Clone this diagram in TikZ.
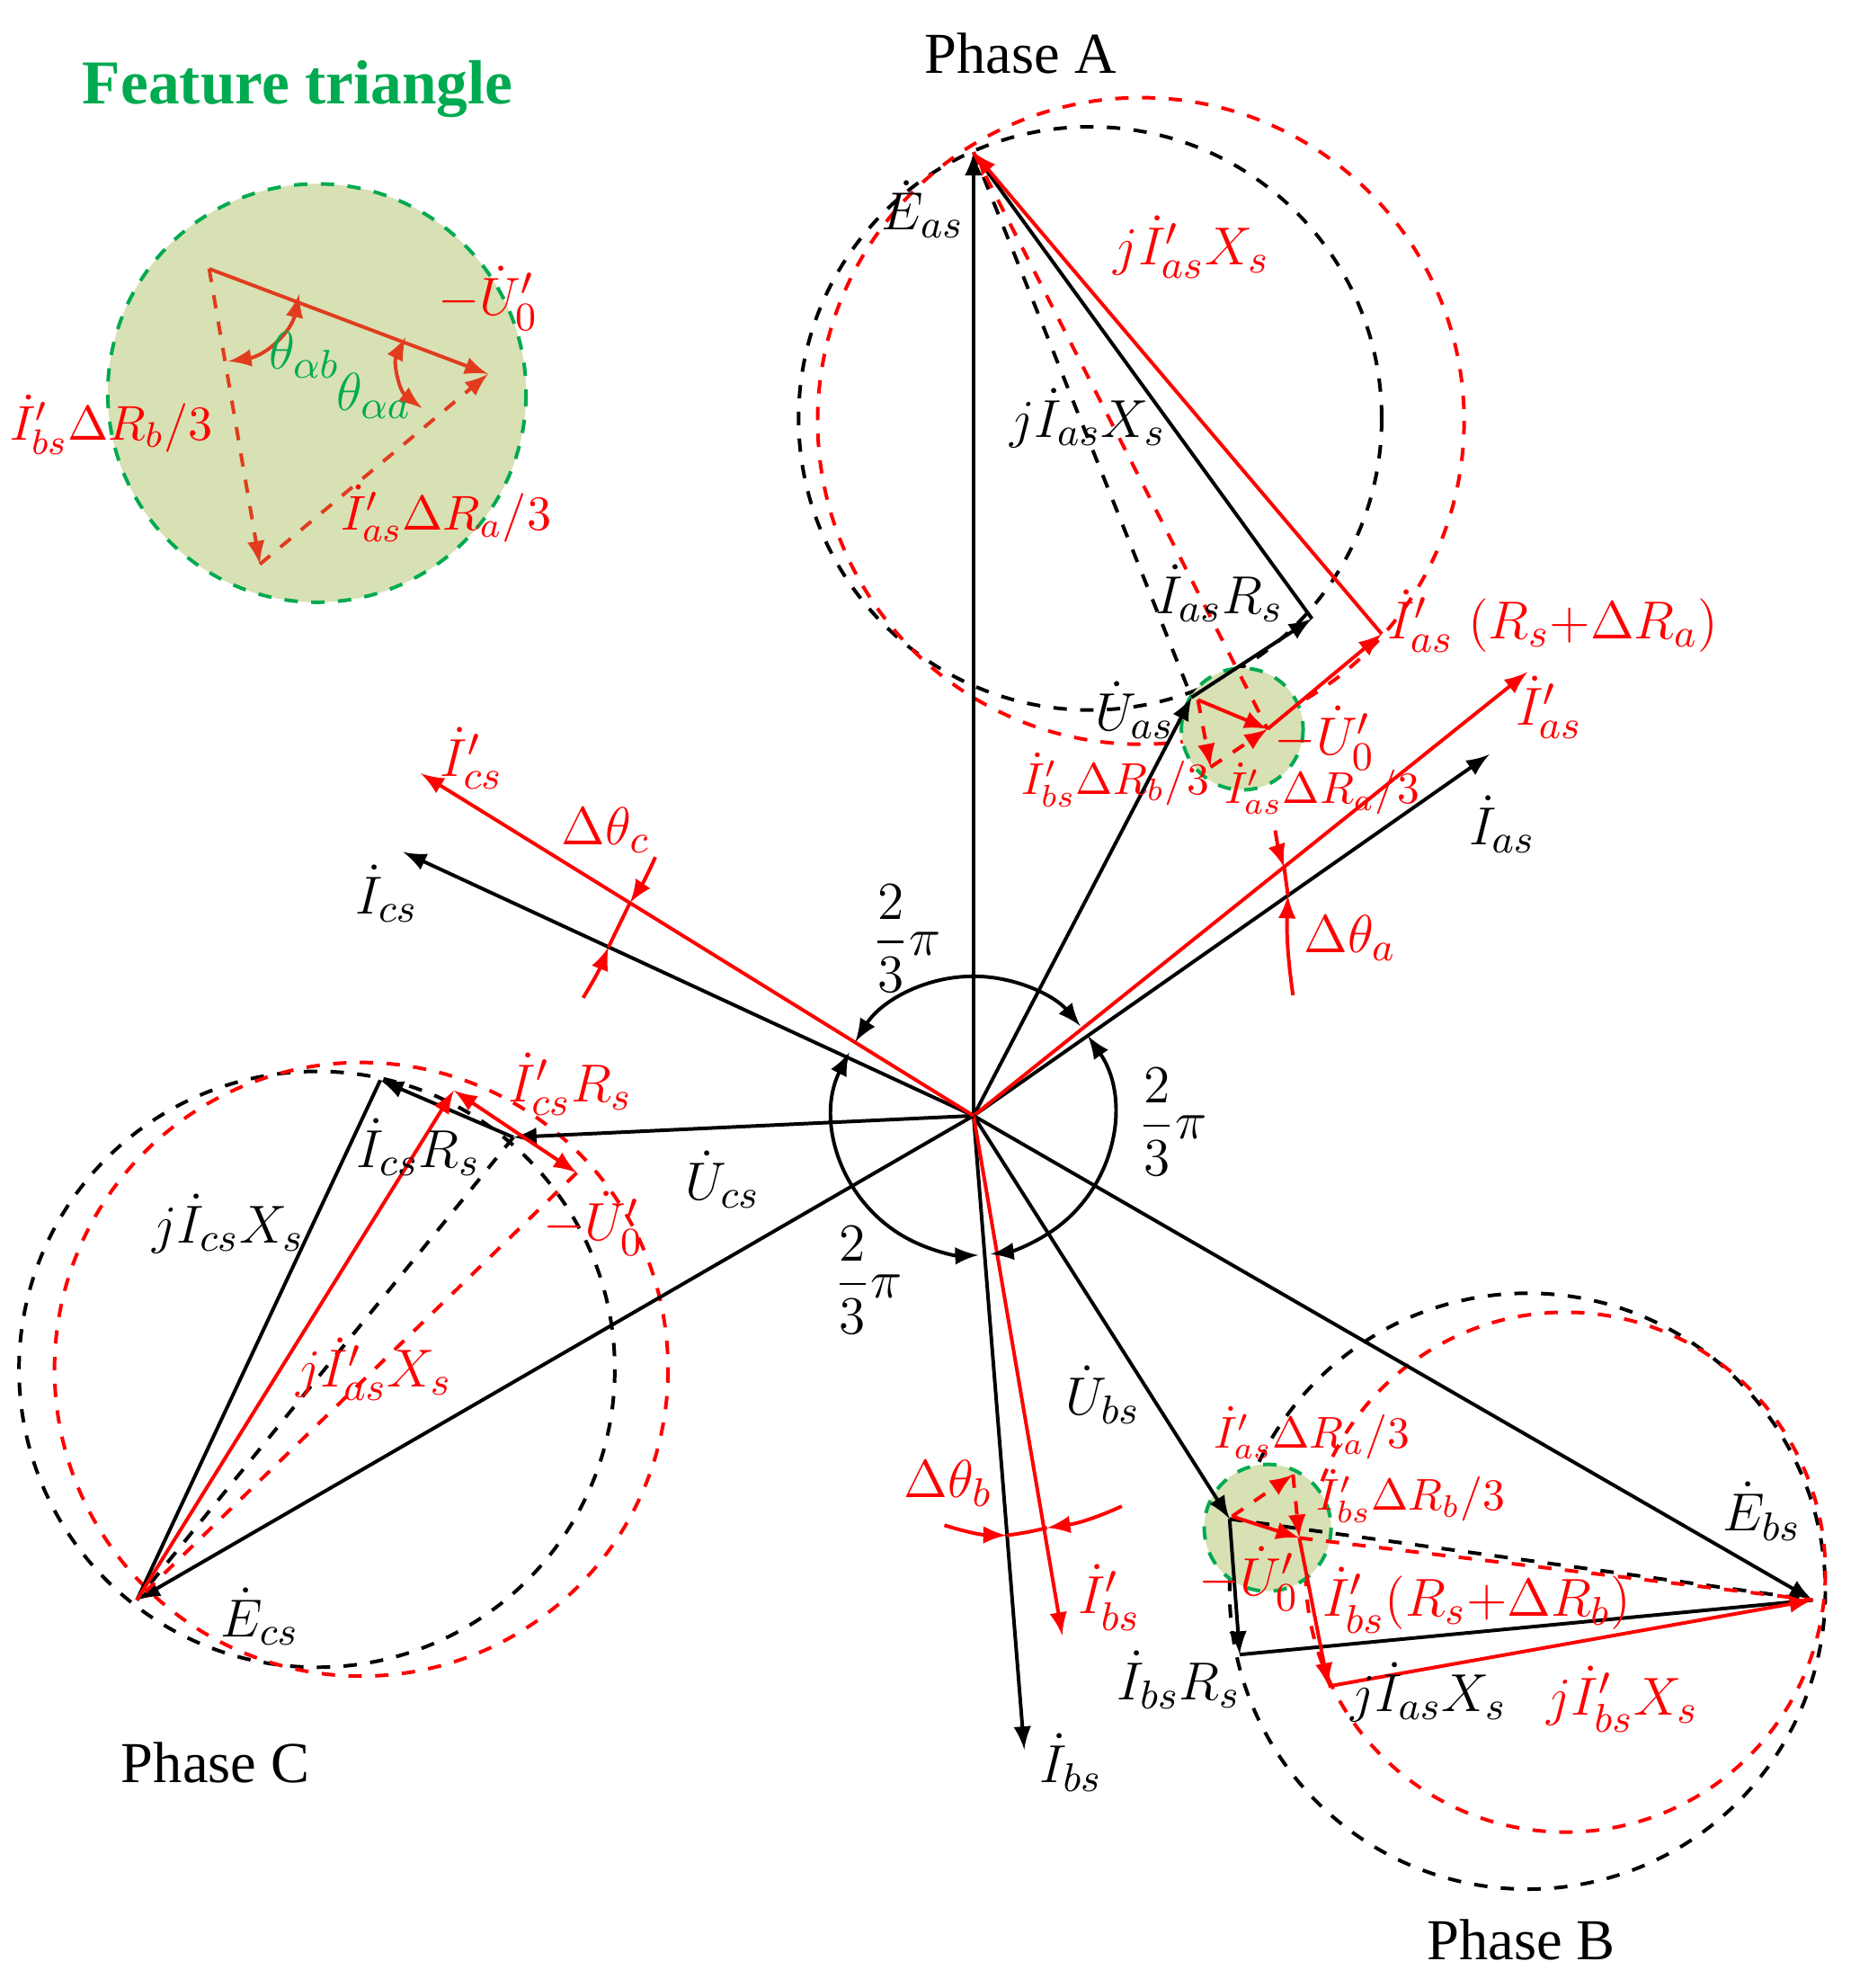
\documentclass[tikz,border=0pt]{standalone}
\usepackage{amsmath}
\usepackage{fontspec}
\setmainfont{Liberation Serif}
\usetikzlibrary{positioning,arrows}
\definecolor{myred}{RGB}{255,0,0}
\definecolor{trired}{RGB}{225,60,30}
\definecolor{mygreen}{RGB}{0,170,80}
\definecolor{myfill}{RGB}{215,225,180}
\newcommand{\dI}{\dot{I}}
\begin{document}
\begin{tikzpicture}[x=0.01cm,y=-0.01cm,
  ph/.style={thick,-latex},
  rph/.style={thick,myred,-latex},
  dsh/.style={thick,dashed},
  lab/.style={font=\fontsize{13}{15}\selectfont},
  rlab/.style={lab,text=myred},
  slab/.style={font=\fontsize{10}{12}\selectfont,text=myred},
  tri/.style={thick,trired,dashed,-latex},
  fcirc/.style={thick,dashed,mygreen,fill=myfill}]
\useasboundingbox (0,0) rectangle (1460,1568);
% points
\coordinate (O) at (768,880);
\coordinate (Eas) at (768,120);
\coordinate (Ebs) at (1430,1262);
\coordinate (Ecs) at (108,1262);
\coordinate (Uas) at (940,550);
\coordinate (Ubs) at (970,1198);
\coordinate (Ucs) at (405,897);
\coordinate (Ias) at (1175,595);
\coordinate (Ibs) at (808,1380);
\coordinate (Ics) at (318,672);
\coordinate (Ipas) at (1205,530);
\coordinate (Ipbs) at (838,1290);
\coordinate (Ipcs) at (332,610);
\coordinate (Ra) at (1035,488);
\coordinate (Rpa) at (1090,500);
\coordinate (Ua0) at (1000,575);
\coordinate (Rb) at (978,1305);
\coordinate (Rpb) at (1048,1330);
\coordinate (Ub0) at (1025,1213);
\coordinate (Rc) at (300,852);
\coordinate (Rpc) at (358,860);
\coordinate (Uc0) at (455,925);
% circles
\draw[dsh] (860,330) circle (230);
\draw[dsh,myred] (900,332) circle (255);
\draw[dsh] (1205,1255) circle (235);
\draw[dsh,myred] (1235,1240) circle (205);
\draw[dsh] (250,1080) circle (235);
\draw[dsh,myred] (285,1080) circle (242);
\draw[fcirc] (980,575) circle (48);
\draw[fcirc] (1000,1205) circle (50);
% feature triangle
\draw[fcirc] (250,310) circle (165);
\coordinate (TA) at (165,212);
\coordinate (TB) at (385,295);
\coordinate (TC) at (205,445);
\draw[thick,trired,-latex] (TA) -- (TB);
\draw[tri] (TA) -- (TC);
\draw[tri] (TC) -- (TB);
\draw[thick,trired,latex-latex] (180,285) to[bend right=35] (236,232);
\draw[thick,trired,latex-latex] (320,266) to[bend right=40] (333,322);
% phase A
\draw[ph] (O) -- (Eas);
\draw[ph] (O) -- (Ias);
\draw[ph] (O) -- (Uas);
\draw[ph] (Uas) -- (Ra);
\draw[thick] (Ra) -- (775,130);
\draw[dsh] (Eas) -- (Uas);
\draw[rph] (O) -- (Ipas);
\draw[rph] (Ua0) -- (Rpa);
\draw[rph] (Rpa) -- (Eas);
\draw[dsh,myred] (Eas) -- (Ua0);
\draw[tri,myred] (945,552) -- (955,605);
\draw[tri,myred] (955,605) -- (Ua0);
\draw[thick,myred,-latex] (945,552) -- (Ua0);
% phase B
\draw[ph] (O) -- (Ebs);
\draw[ph] (O) -- (Ibs);
\draw[ph] (O) -- (Ubs);
\draw[ph] (Ubs) -- (Rb);
\draw[thick] (Rb) -- (Ebs);
\draw[dsh] (Ubs) -- (Ebs);
\draw[rph] (O) -- (Ipbs);
\draw[rph] (Ub0) -- (Rpb);
\draw[rph] (Rpb) -- (Ebs);
\draw[dsh,myred] (Ub0) -- (Ebs);
\draw[tri,myred] (972,1196) -- (1020,1163);
\draw[tri,myred] (1020,1163) -- (Ub0);
\draw[thick,myred,-latex] (972,1196) -- (Ub0);
% phase C
\draw[ph] (O) -- (Ecs);
\draw[ph] (O) -- (Ics);
\draw[ph] (O) -- (Ucs);
\draw[ph] (Ucs) -- (Rc);
\draw[thick] (Rc) -- (Ecs);
\draw[dsh] (Ucs) -- (Ecs);
\draw[rph] (O) -- (Ipcs);
\draw[thick,myred,latex-latex] (Uc0) -- (Rpc);
\draw[rph] (Ecs) -- (Rpc);
\draw[dsh,myred] (Uc0) -- (Ecs);
% angle arcs (y axis is flipped, so angles are negated)
\draw[thick,latex-latex] (O) ++(-148:110) arc (-148:-40:110);
\draw[thick,latex-latex] (O) ++(-153:110) arc (-153:-272:110);
\draw[thick,latex-latex] (O) ++(-35:110) arc (-35:83:110);
\draw[thick,myred,-latex] (1006,655) to[bend right=5] (1013,684);
\draw[thick,myred,-latex] (1020,785) to[bend left=5] (1016,706);
\draw[thick,myred] (1013,684) -- (1016,706);
\draw[thick,myred,-latex] (517,676) to[bend left=5] (497,712);
\draw[thick,myred,-latex] (460,787) to[bend right=5] (480,747);
\draw[thick,myred] (497,712) -- (480,747);
\draw[thick,myred,-latex] (745,1203) to[bend right=8] (794,1211);
\draw[thick,myred,-latex] (885,1188) to[bend left=8] (826,1205);
\draw[thick,myred] (794,1211) to[bend right=3] (826,1205);
% labels
\node[lab] (pa) at (805,42) {Phase A};
\node[lab] (pb) at (1200,1530) {Phase B};
\node[lab] (pc) at (170,1390) {Phase C};
\node[font=\fontsize{14}{16}\selectfont\bfseries,text=mygreen] (ft) at (235,70) {Feature triangle};
\node[rlab] at (385,235) {$-\dot{U}'_0$};
\node[lab,text=mygreen] at (240,280) {$\theta_{\alpha b}$};
\node[lab,text=mygreen] at (295,312) {$\theta_{\alpha a}$};
\node[slab,font=\fontsize{11}{13}\selectfont] at (88,335) {$\dI'_{bs}\Delta R_b/3$};
\node[slab,font=\fontsize{11}{13}\selectfont] at (352,405) {$\dI'_{as}\Delta R_a/3$};
\node[lab] at (728,165) {$\dot{E}_{as}$};
\node[rlab] at (940,195) {$j\dI'_{as}X_s$};
\node[lab] at (858,330) {$j\dI_{as}X_s$};
\node[lab] at (962,468) {$\dI_{as}R_s$};
\node[rlab] at (1225,490) {$\dI'_{as}\ (R_s{+}\Delta R_a)$};
\node[lab] at (895,560) {$\dot{U}_{as}$};
\node[rlab] at (1045,582) {$-\dot{U}'_0$};
\node[slab] at (880,615) {$\dI'_{bs}\Delta R_b/3$};
\node[slab] at (1043,622) {$\dI'_{as}\Delta R_a/3$};
\node[rlab] at (1222,558) {$\dI'_{as}$};
\node[lab] at (1185,650) {$\dI_{as}$};
\node[rlab] at (372,598) {$\dI'_{cs}$};
\node[rlab] at (478,655) {$\Delta\theta_c$};
\node[lab] at (305,705) {$\dI_{cs}$};
\node[lab] at (715,740) {$\dfrac{2}{3}\pi$};
\node[lab] at (925,885) {$\dfrac{2}{3}\pi$};
\node[lab] at (685,1010) {$\dfrac{2}{3}\pi$};
\node[rlab] at (1065,740) {$\Delta\theta_a$};
\node[lab] at (570,930) {$\dot{U}_{cs}$};
\node[rlab] at (450,855) {$\dI'_{cs}R_s$};
\node[lab] at (330,905) {$\dI_{cs}R_s$};
\node[rlab] at (468,965) {$-\dot{U}'_0$};
\node[lab] at (180,965) {$j\dI_{cs}X_s$};
\node[rlab] at (295,1080) {$j\dI'_{as}X_s$};
\node[lab] at (205,1275) {$\dot{E}_{cs}$};
\node[lab] at (870,1100) {$\dot{U}_{bs}$};
\node[rlab] at (748,1170) {$\Delta\theta_b$};
\node[rlab] at (875,1260) {$\dI'_{bs}$};
\node[lab] at (845,1390) {$\dI_{bs}$};
\node[slab] at (1035,1130) {$\dI'_{as}\Delta R_a/3$};
\node[slab] at (1113,1180) {$\dI'_{bs}\Delta R_b/3$};
\node[lab] at (1390,1192) {$\dot{E}_{bs}$};
\node[rlab] at (985,1245) {$-\dot{U}'_0$};
\node[rlab] at (1165,1262) {$\dI'_{bs}(R_s{+}\Delta R_b)$};
\node[lab] at (930,1325) {$\dI_{bs}R_s$};
\node[lab] at (1127,1335) {$j\dI_{as}X_s$};
\node[rlab] at (1280,1340) {$j\dI'_{bs}X_s$};
\end{tikzpicture}
\end{document}
